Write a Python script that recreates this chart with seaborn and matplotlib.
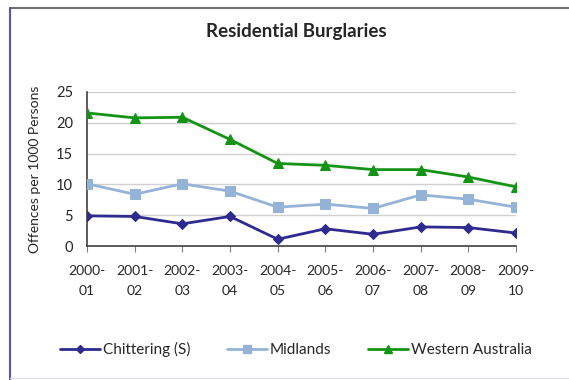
import matplotlib
matplotlib.use("Agg")
import matplotlib.pyplot as plt
from matplotlib.lines import Line2D
import seaborn as sns
import pandas as pd

# Financial years and offence rates per 1000 persons
years = ["2000-\n01", "2001-\n02", "2002-\n03", "2003-\n04", "2004-\n05",
         "2005-\n06", "2006-\n07", "2007-\n08", "2008-\n09", "2009-\n10"]
chittering = [4.9, 4.8, 3.6, 4.8, 1.1, 2.8, 1.9, 3.1, 3.0, 2.1]
midlands = [10.1, 8.4, 10.1, 8.9, 6.3, 6.8, 6.1, 8.3, 7.6, 6.3]
western_australia = [21.6, 20.8, 20.9, 17.3, 13.4, 13.1, 12.4, 12.4, 11.2, 9.6]

series_names = ["Chittering (S)", "Midlands", "Western Australia"]
colors = ["#2E2A8E", "#95B3D7", "#149414"]
markers = ["D", "s", "^"]
msizes = [5, 7, 7]

frames = []
for name, vals in zip(series_names, [chittering, midlands, western_australia]):
    frames.append(pd.DataFrame({"idx": range(len(years)), "value": vals, "series": name}))
df = pd.concat(frames, ignore_index=True)

sns.set_theme(style="white")
plt.rcParams["font.family"] = ["Lato", "DejaVu Sans"]
text_color = "#262626"

fig = plt.figure(figsize=(5.69, 3.80), dpi=100)
ax = fig.add_axes([0.1529, 0.3526, 0.754, 0.4053])

for name, col, mk, ms in zip(series_names, colors, markers, msizes):
    sub = df[df["series"] == name]
    sns.lineplot(data=sub, x="idx", y="value", ax=ax, color=col, marker=mk,
                 markersize=ms, markeredgecolor=col, linewidth=2, legend=False,
                 zorder=3)

ax.set_xlim(0, len(years) - 1)
ax.set_ylim(0, 25)
ax.set_yticks([0, 5, 10, 15, 20, 25])
ax.set_xticks(range(len(years)))
ax.set_xticklabels(years, fontsize=10, color=text_color, linespacing=1.75)
ax.tick_params(axis="y", labelsize=10.5, colors=text_color, length=0, pad=10)
ax.tick_params(axis="x", length=4, width=0.8, color="#808080", direction="out",
               bottom=True, pad=10)
ax.yaxis.grid(True, color="#D0D0D0", linewidth=1)
ax.set_axisbelow(True)
for side in ["top", "right"]:
    ax.spines[side].set_visible(False)
ax.spines["left"].set_color("#404040")
ax.spines["bottom"].set_color("#404040")
ax.spines["left"].set_linewidth(1.2)
ax.spines["bottom"].set_linewidth(1.2)
ax.set_xlabel("")
ax.set_ylabel("Offences per 1000 Persons", fontsize=10, color=text_color, labelpad=11)

fig.text(0.52, 0.918, "Residential Burglaries", ha="center", va="center",
         fontsize=13.5, fontweight="bold", color=text_color)

handles = [Line2D([0], [0], color=c, marker=m, markersize=s * 0.8, markeredgecolor=c,
                  linewidth=2) for c, m, s in zip(colors, markers, msizes)]
fig.legend(handles, series_names, loc="center", bbox_to_anchor=(0.52, 0.08),
           ncol=3, frameon=False, fontsize=11, handlelength=2.6,
           columnspacing=2.4, handletextpad=0.2, labelcolor=text_color)

# Chart frame
fig.add_artist(Line2D([0.0176, 1.0], [0.979, 0.979], color="#707070", linewidth=1.5,
                      transform=fig.transFigure))
fig.add_artist(Line2D([0.0176, 0.0176], [0.0, 0.979], color="#5A52B8", linewidth=1.5,
                      transform=fig.transFigure))
fig.add_artist(Line2D([0.0176, 1.0], [0.006, 0.006], color="#E0E0E8", linewidth=1,
                      transform=fig.transFigure))

fig.savefig("out.png", dpi=100)
